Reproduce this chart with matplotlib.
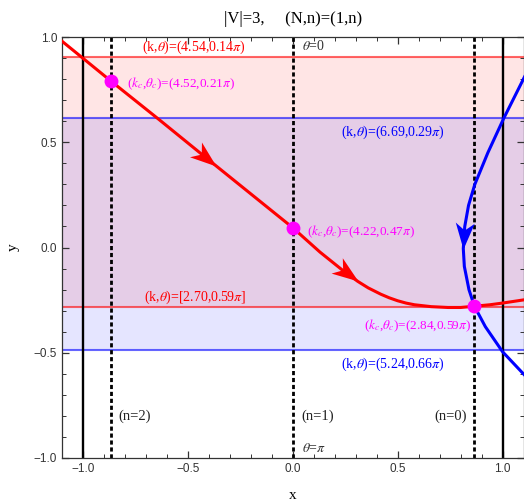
import matplotlib
matplotlib.use('Agg')
import matplotlib.pyplot as plt
import numpy as np
from matplotlib.markers import MarkerStyle
from matplotlib.path import Path
from matplotlib.ticker import MultipleLocator
from matplotlib.transforms import Affine2D

plt.rcParams['font.family'] = ['Liberation Serif', 'DejaVu Serif']
plt.rcParams['mathtext.fontset'] = 'stix'

# flow curves
red_x = [-1.10, -1.0, -0.866, -0.64, -0.45, -0.367, 0.0, 0.13, 0.24, 0.31, 0.36,
         0.42, 0.46, 0.50, 0.54, 0.58, 0.66, 0.74, 0.80, 0.866, 0.94, 1.0, 1.10]
red_y = [0.98, 0.899, 0.79, 0.61, 0.456, 0.389, 0.094, -0.022, -0.11, -0.161, -0.192,
         -0.222, -0.239, -0.253, -0.264, -0.272, -0.281, -0.285, -0.285, -0.279,
         -0.272, -0.264, -0.249]
red_arrows = [(4, 5), (8, 9)]   # (from, tip) indices

blue_x = [1.105, 1.006, 0.930, 0.868, 0.838, 0.820, 0.813, 0.818, 0.840, 0.866,
          0.918, 1.0, 1.105]
blue_y = [0.811, 0.614, 0.45, 0.30, 0.20, 0.10, -0.005, -0.09, -0.20, -0.279,
          -0.376, -0.495, -0.606]
blue_arrows = [(5, 6)]

# critical points
crit_x = [-0.866, 0.0, 0.866]
crit_y = [0.790, 0.094, -0.279]
crit_labels = [r'($k_c$,$\theta_c$)=(4.52,0.21$\pi$)',
               r'($k_c$,$\theta_c$)=(4.22,0.47$\pi$)',
               r'($k_c$,$\theta_c$)=(2.84,0.59$\pi$)']

# bands: y = cos(theta)
red_band = [0.903, -0.282]
blue_band = [0.613, -0.487]
red_band_labels = [r'(k,$\theta$)=(4.54,0.14$\pi$)', r'(k,$\theta$)=[2.70,0.59$\pi$]']
blue_band_labels = [r'(k,$\theta$)=(6.69,0.29$\pi$)', r'(k,$\theta$)=(5.24,0.66$\pi$)']

n_x = [-0.866, 0.0, 0.866]
n_labels = ['(n=2)', '(n=1)', '(n=0)']

fig = plt.figure(figsize=(5.24, 5.04), dpi=100)
ax = fig.add_axes([62 / 524, 46 / 504, 461.5 / 524, 421 / 504])
ax.set_xlim(-1.1, 1.1)
ax.set_ylim(-1.0, 1.0)

ax.axhspan(red_band[1], red_band[0], color='red', alpha=0.1, lw=0, zorder=0)
ax.axhspan(blue_band[1], blue_band[0], color='blue', alpha=0.1, lw=0, zorder=0)
for yv in red_band:
    ax.axhline(yv, color='red', alpha=0.6, lw=1.5, zorder=1)
for yv in blue_band:
    ax.axhline(yv, color='blue', alpha=0.6, lw=1.5, zorder=1)

for xv in (-1.0, 1.0):
    ax.axvline(xv, color='black', lw=1.7, zorder=2)
for xv in n_x:
    ax.axvline(xv, color='black', lw=2.0, dashes=(1.5, 1.0), zorder=2)

ax.plot(red_x, red_y, color='red', lw=2.2, zorder=3)
ax.plot(blue_x, blue_y, color='blue', lw=2.2, zorder=3)

# notched arrowhead, tip at the origin pointing along +x
head = Path([(0, 0), (-1.0, 0.36), (-0.72, 0), (-1.0, -0.36), (0, 0)],
            [Path.MOVETO, Path.LINETO, Path.LINETO, Path.LINETO, Path.CLOSEPOLY])
for xs, ys, arrs, col in ((red_x, red_y, red_arrows, 'red'),
                          (blue_x, blue_y, blue_arrows, 'blue')):
    for i0, i1 in arrs:
        p0 = ax.transData.transform((xs[i0], ys[i0]))
        p1 = ax.transData.transform((xs[i1], ys[i1]))
        ang = np.degrees(np.arctan2(p1[1] - p0[1], p1[0] - p0[0]))
        m = MarkerStyle(head, transform=Affine2D().rotate_deg(ang))
        ax.plot([xs[i1]], [ys[i1]], marker=m, ms=38, color=col, mec='none',
                ls='none', zorder=4)

ax.plot(crit_x, crit_y, 'o', color='magenta', ms=10, mec='none', zorder=5)

fs = 10
ax.text(-0.469, 0.912, red_band_labels[0], color='red', fontsize=fs,
        ha='center', va='bottom')
ax.text(-0.467, -0.276, red_band_labels[1], color='red', fontsize=fs,
        ha='center', va='bottom')
ax.text(0.476, 0.546, blue_band_labels[0], color='blue', fontsize=fs,
        ha='center', va='center')
ax.text(0.476, -0.553, blue_band_labels[1], color='blue', fontsize=fs,
        ha='center', va='center')

ax.text(-0.79, 0.78, crit_labels[0], color='magenta', fontsize=9.5, ha='left', va='center')
ax.text(0.07, 0.075, crit_labels[1], color='magenta', fontsize=9.5, ha='left', va='center')
ax.text(0.851, -0.373, crit_labels[2], color='magenta', fontsize=9.5, ha='right', va='center')

ax.text(-0.83, -0.80, n_labels[0], fontsize=10.5, ha='left', va='center', color='#222222')
ax.text(0.043, -0.80, n_labels[1], fontsize=10.5, ha='left', va='center', color='#222222')
ax.text(0.832, -0.80, n_labels[2], fontsize=10.5, ha='right', va='center', color='#222222')
ax.text(0.046, 0.955, r'$\theta$=0', fontsize=fs, ha='left', va='center', color='#333333')
ax.text(0.046, -0.954, r'$\theta$=$\pi$', fontsize=fs, ha='left', va='center', color='#333333')

ax.set_title('|V|=3,     (N,n)=(1,n)', fontsize=12, pad=10)
ax.set_xlabel('x', fontsize=11, labelpad=10)
ax.set_ylabel('y', fontsize=11, labelpad=10)

ax.xaxis.set_major_locator(MultipleLocator(0.5))
ax.xaxis.set_minor_locator(MultipleLocator(0.1))
ax.yaxis.set_major_locator(MultipleLocator(0.5))
ax.yaxis.set_minor_locator(MultipleLocator(0.1))
ax.tick_params(which='both', direction='in', top=True, right=True, color='#333333')
ax.tick_params(which='major', length=5, width=0.9)
ax.tick_params(which='minor', length=3, width=0.7)
for lab in ax.get_xticklabels() + ax.get_yticklabels():
    lab.set_fontfamily('Liberation Sans')
    lab.set_fontsize(8.5)
    lab.set_color('#333333')
for sp in ax.spines.values():
    sp.set_color('#333333')
    sp.set_linewidth(0.9)

fig.savefig('out.png', dpi=100)
